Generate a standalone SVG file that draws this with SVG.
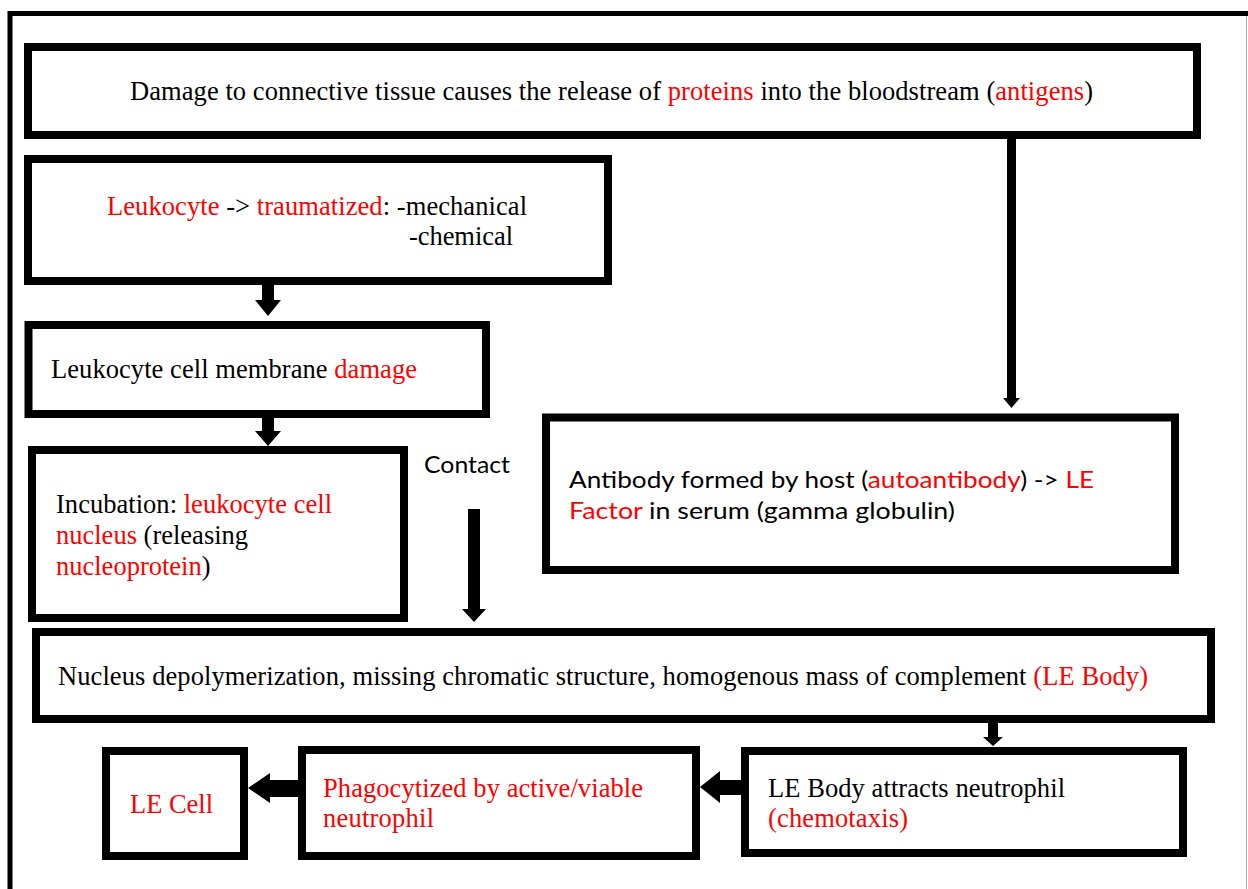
<svg xmlns="http://www.w3.org/2000/svg" width="1248" height="889" viewBox="0 0 1248 889">
<style>
.box{fill:#fff;stroke:#000;stroke-width:8}
.s{font-family:"Liberation Serif","Times New Roman",serif;font-size:26.5px;fill:#000}
.c{font-family:Lato,"Liberation Sans",sans-serif;font-size:24px;fill:#000}
.r{fill:#ff0000}
.arr{fill:#000}
</style>
<rect width="1248" height="889" fill="#fff"/>
<g id="frame">
<path d="M10 889 V13.5 H1248" fill="none" stroke="#000" stroke-width="5"/>
<line x1="1246.5" y1="16" x2="1246.5" y2="889" stroke="#aaa" stroke-width="1"/>
</g>
<g id="connectors">
<polygon class="arr" points="262,285 274,285 274,300 281,300 268,316 255,300 262,300"/>
<polygon class="arr" points="262,418 274,418 274,431 281,431 268,446 255,431 262,431"/>
<polygon class="arr" points="468,509 480,509 480,609 486,609 474,622 462,609 468,609"/>
<polygon class="arr" points="1007,139 1016,139 1016,398 1020,398 1011.5,408 1003,398 1007,398"/>
<polygon class="arr" points="988,723 998,723 998,737 1003,737 993,746 983,737 988,737"/>
<polygon class="arr" points="741,780 741,795 720,795 720,803 700,787 720,771 720,780"/>
<polygon class="arr" points="298,780 298,797 270,797 270,803 248,788 270,773 270,780"/>
</g>
<g id="node1">
<rect class="box" x="28" y="47" width="1169" height="88"/>
<text class="s" x="130" y="100" textLength="963">Damage to connective tissue causes the release of <tspan class="r">proteins</tspan> into the bloodstream (<tspan class="r">antigens</tspan>)</text>
</g>
<g id="node2">
<rect class="box" x="28" y="159" width="580" height="122"/>
<text class="s" x="107" y="215" textLength="420"><tspan class="r">Leukocyte</tspan> -&gt; <tspan class="r">traumatized</tspan>: -mechanical</text>
<text class="s" x="409" y="245" textLength="104">-chemical</text>
</g>
<g id="node3">
<rect class="box" x="28.5" y="325" width="457.5" height="89"/>
<text class="s" x="51" y="378" textLength="366">Leukocyte cell membrane <tspan class="r">damage</tspan></text>
</g>
<g id="node4">
<rect class="box" x="32" y="450" width="372" height="168"/>
<text class="s" x="56" y="512.5" textLength="276">Incubation: <tspan class="r">leukocyte cell</tspan></text>
<text class="s" x="56" y="543.5"><tspan class="r">nucleus</tspan> (releasing</text>
<text class="s" x="56" y="575"><tspan class="r">nucleoprotein</tspan>)</text>
</g>
<g id="contact-label">
<text class="c" x="424" y="473" textLength="86" lengthAdjust="spacingAndGlyphs">Contact</text>
</g>
<g id="node5">
<rect class="box" x="546" y="417.5" width="629" height="152.5"/>
<text class="c" x="569" y="488" textLength="525" lengthAdjust="spacingAndGlyphs">Antibody formed by host (<tspan class="r">autoantibody</tspan>) -&gt; <tspan class="r">LE</tspan></text>
<text class="c" x="569" y="518.5" textLength="386" lengthAdjust="spacingAndGlyphs"><tspan class="r">Factor</tspan> in serum (gamma globulin)</text>
</g>
<g id="node6">
<rect class="box" x="36" y="632" width="1175" height="87"/>
<text class="s" x="58" y="685" textLength="1090">Nucleus depolymerization, missing chromatic structure, homogenous mass of complement <tspan class="r">(LE Body)</tspan></text>
</g>
<g id="node7">
<rect class="box" x="745" y="751" width="438" height="102"/>
<text class="s" x="768" y="797" textLength="297">LE Body attracts neutrophil</text>
<text class="s r" x="768" y="827" textLength="140">(chemotaxis)</text>
</g>
<g id="node8">
<rect class="box" x="302" y="750" width="394" height="106"/>
<text class="s r" x="323" y="797" textLength="320">Phagocytized by active/viable</text>
<text class="s r" x="323" y="827" textLength="111">neutrophil</text>
</g>
<g id="node9">
<rect class="box" x="106" y="751" width="138" height="105"/>
<text class="s r" x="130" y="813" textLength="83">LE Cell</text>
</g>
</svg>
